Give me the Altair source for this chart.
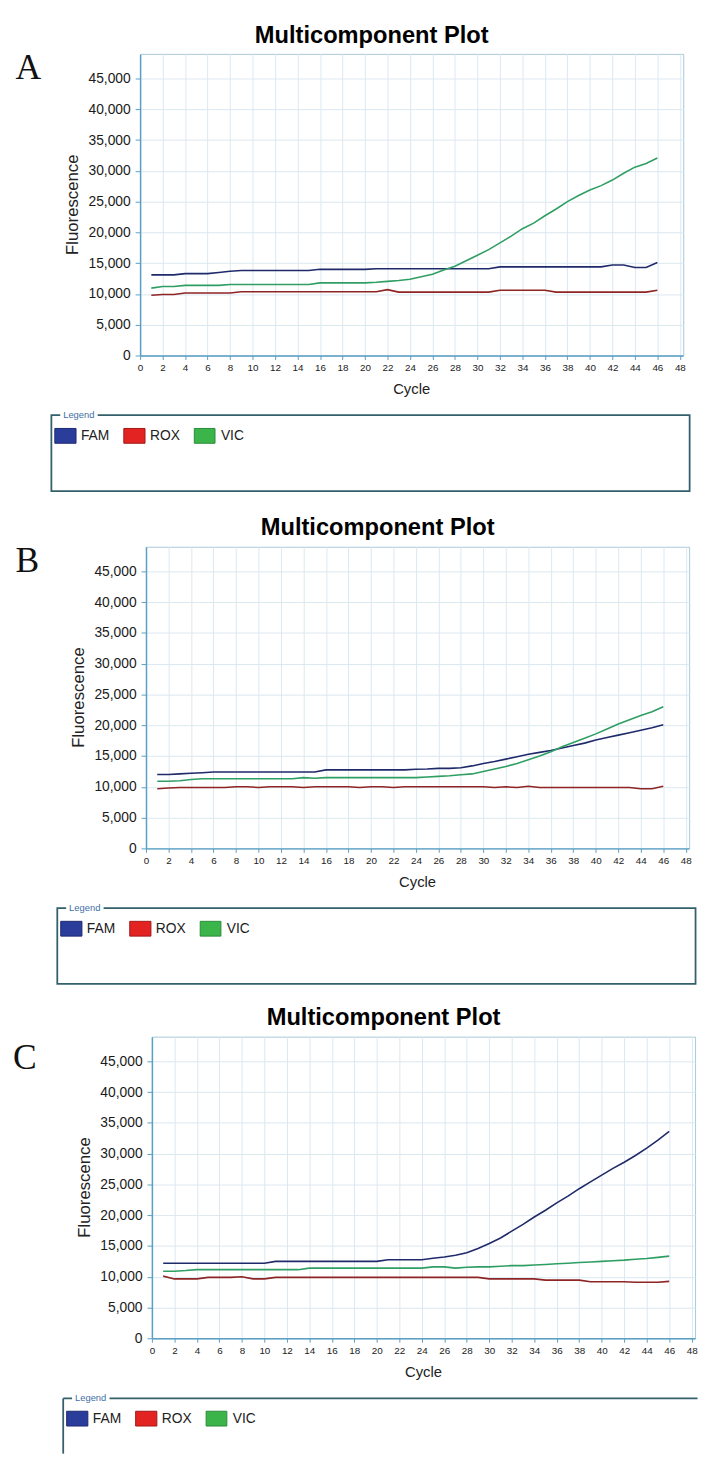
import altair as alt
import pandas as pd

CYCLES = list(range(1, 47))
DYES = ["FAM", "ROX", "VIC"]
LINE_COLORS = ["#1f2a6b", "#8e2424", "#2f9e63"]
SWATCH_FILL = ["#2b3d9b", "#e32322", "#3bb54a"]
SWATCH_STROKE = ["#1c2870", "#a01818", "#2a8a3a"]

A_FAM = [13100]*3 + [13300]*3 + [13500, 13700] + [13800]*7 + [14000]*5 + [14100]*11 + [14400]*10 + [14700]*2 + [14300]*2 + [15100]
A_ROX = [9800] + [9900]*2 + [10150]*5 + [10350]*13 + [10700] + [10300]*9 + [10600]*5 + [10300]*9 + [10600]
A_VIC = [10950, 11200, 11200] + [11400]*4 + [11550]*8 + [11800]*5 + [11900, 12050, 12200, 12400, 12800, 13200, 13900, 14500, 15400, 16300, 17200, 18300, 19400, 20600, 21500, 22700, 23800, 25000, 26000, 26900, 27600, 28500, 29600, 30600, 31200, 32100]

B_FAM = [12000, 12000, 12100, 12200, 12300] + [12400]*10 + [12750]*8 + [12850, 12900, 13000, 13000, 13100, 13400, 13800, 14100, 14500, 14900, 15300, 15600, 15900, 16300, 16700, 17100, 17600, 18000, 18400, 18800, 19200, 19600, 20100]
B_ROX = [9700, 9800] + [9900]*5 + [10000]*2 + [9900] + [10000]*3 + [9900] + [10000]*4 + [9900] + [10000]*2 + [9900] + [10000]*8 + [9900, 10000, 9900, 10100] + [9900]*9 + [9700, 9700, 10100]
B_VIC = [10900, 10900, 11000, 11200] + [11300]*9 + [11500, 11400] + [11500]*9 + [11600, 11700, 11800, 11950, 12100, 12500, 12900, 13300, 13800, 14400, 15000, 15700, 16500, 17200, 17900, 18600, 19400, 20200, 20900, 21600, 22200, 23000]

C_FAM = [12200]*10 + [12500]*10 + [12750]*4 + [13000, 13200, 13500, 13900, 14600, 15400, 16300, 17400, 18500, 19700, 20800, 22000, 23100, 24300, 25400, 26500, 27600, 28600, 29700, 30900, 32200, 33600]
C_ROX = [10100] + [9650]*3 + [9900]*3 + [10000] + [9650]*2 + [9900]*19 + [9650]*5 + [9450]*4 + [9200]*4 + [9100]*3 + [9250]
C_VIC = [10900, 10900, 11000] + [11150]*10 + [11400]*11 + [11600, 11600, 11400, 11550, 11600, 11600, 11700, 11800, 11800, 11900, 12000, 12100, 12200, 12300, 12400, 12500, 12600, 12700, 12850, 12950, 13150, 13350]

X_TICKS = list(range(0, 49, 2))
Y_TICKS = list(range(0, 45001, 5000))

TITLE = "Multicomponent Plot"
W, H = 551, 306
AXIS = "#5a9fc4"
GRID = "#dbe8f1"
BORDER = "#a9c8da"
BOX = "#33606b"
SANS = "Liberation Sans"

one = pd.DataFrame({"k": [0]})


def txt(text, x, y, **kw):
    return alt.Chart(one).mark_text(**kw).encode(
        x=alt.value(x), y=alt.value(y), text=alt.value(text))


def rect(x, x2, y, y2, **kw):
    return alt.Chart(one).mark_rect(**kw).encode(
        x=alt.value(x), x2=alt.value(x2), y=alt.value(y), y2=alt.value(y2))


def rule(x, x2, y, y2, **kw):
    return alt.Chart(one).mark_rule(**kw).encode(
        x=alt.value(x), x2=alt.value(x2), y=alt.value(y), y2=alt.value(y2))


def spacer(w, h):
    return rect(0, 1, 0, 1, opacity=0).properties(
        width=w, height=h, view=alt.ViewBackground(stroke="transparent"))


def panel(letter, fam, rox, vic, left, top, letter_x, letter_base, anchor=False, open_box=False):
    df = pd.DataFrame({
        "cycle": CYCLES * 3,
        "dye": ["FAM"] * 46 + ["ROX"] * 46 + ["VIC"] * 46,
        "value": fam + rox + vic,
    })
    lines = alt.Chart(df).mark_line(strokeWidth=1.6).encode(
        x=alt.X("cycle:Q",
                scale=alt.Scale(domain=[0, 48.3], nice=False, zero=False),
                axis=alt.Axis(values=X_TICKS, title=None, labelFontSize=10, labelFont=SANS,
                              labelColor="#222222", tickSize=4, tickColor=AXIS,
                              domainColor=AXIS, domainWidth=1.5, labelPadding=3,
                              gridColor=GRID, labelOverlap=False, labelFlush=False)),
        y=alt.Y("value:Q",
                scale=alt.Scale(domain=[0, 49000], nice=False),
                axis=alt.Axis(values=Y_TICKS, format=",d", title=None, labelFontSize=14,
                              labelFont=SANS, labelColor="#1a1a1a", tickSize=5,
                              tickColor=AXIS, domainColor=AXIS, domainWidth=1.5,
                              labelPadding=5, gridColor=GRID)),
        color=alt.Color("dye:N", scale=alt.Scale(domain=DYES, range=LINE_COLORS), legend=None),
        order="cycle:Q",
    )
    layers = [lines]
    if anchor:
        # invisible anchor fixing the page's top-left corner
        layers.append(rect(8 - left, 9 - left, 8 - top, 9 - top, opacity=0))
    layers.append(txt(TITLE, 235, -30.5, font=SANS, fontWeight="bold", fontSize=24,
                      align="center", baseline="top", color="#000000"))
    layers.append(txt(letter, letter_x, letter_base, font="Liberation Serif", fontSize=36,
                      align="center", baseline="alphabetic", color="#111111"))
    layers.append(txt("Fluorescence", -68, H / 2, font=SANS, fontSize=17, angle=270,
                      align="center", baseline="middle", color="#222222"))
    layers.append(txt("Cycle", W / 2, H + 34, font=SANS, fontSize=15,
                      align="center", baseline="middle", color="#222222"))
    # legend box
    if open_box:
        layers.append(rule(-90, 706.5 - left, H + 61, H + 61, stroke=BOX, strokeWidth=1.8))
        layers.append(rule(-90, -90, H + 61, 1463 - top, stroke=BOX, strokeWidth=1.8))
    else:
        layers.append(rect(-90, 557.5, H + 60.5, H + 137.5, fill="white",
                           stroke=BOX, strokeWidth=1.8))
    layers.append(rect(-81, -43, H + 56, H + 65, fill="white"))
    layers.append(txt("Legend", -78, H + 60.5, font=SANS, fontSize=9.5, align="left",
                      baseline="middle", color="#3f6fa6"))
    sw_x = [(-86.5, -65), (-16.5, 5), (55, 76)]
    tx = [-60, 10, 82]
    for i, dye in enumerate(DYES):
        layers.append(rect(sw_x[i][0], sw_x[i][1], H + 74, H + 89, fill=SWATCH_FILL[i],
                           stroke=SWATCH_STROKE[i], strokeWidth=1))
        layers.append(txt(dye, tx[i], H + 82, font=SANS, fontSize=14, align="left",
                          baseline="middle", color="#222222"))
    return alt.layer(*layers).properties(
        width=W, height=H, view=alt.ViewBackground(stroke=BORDER, strokeWidth=1))


pA = panel("A", A_FAM, A_ROX, A_VIC, left=141, top=43,
           letter_x=-113.5, letter_base=25, anchor=True)
pB = panel("B", B_FAM, B_ROX, B_VIC, left=147, top=543,
           letter_x=-120.5, letter_base=26)
pC = panel("C", C_FAM, C_ROX, C_VIC, left=153, top=1040,
           letter_x=-129, letter_base=33, open_box=True)

rowA = alt.hconcat(spacer(1, 1), pA, spacing=0, bounds="flush")
rowB = alt.hconcat(spacer(7, 1), pB, spacing=0, bounds="flush")
rowC = alt.hconcat(spacer(13, 1), pC, spacing=0, bounds="flush")

chart = alt.vconcat(
    rowA, spacer(1, 500), rowB, spacer(1, 497), rowC, spacing=0, bounds="flush"
).properties(padding=0, background="white").configure_view(stroke="transparent")

chart.save("out.html", embed_options={"renderer": "svg", "actions": False})
